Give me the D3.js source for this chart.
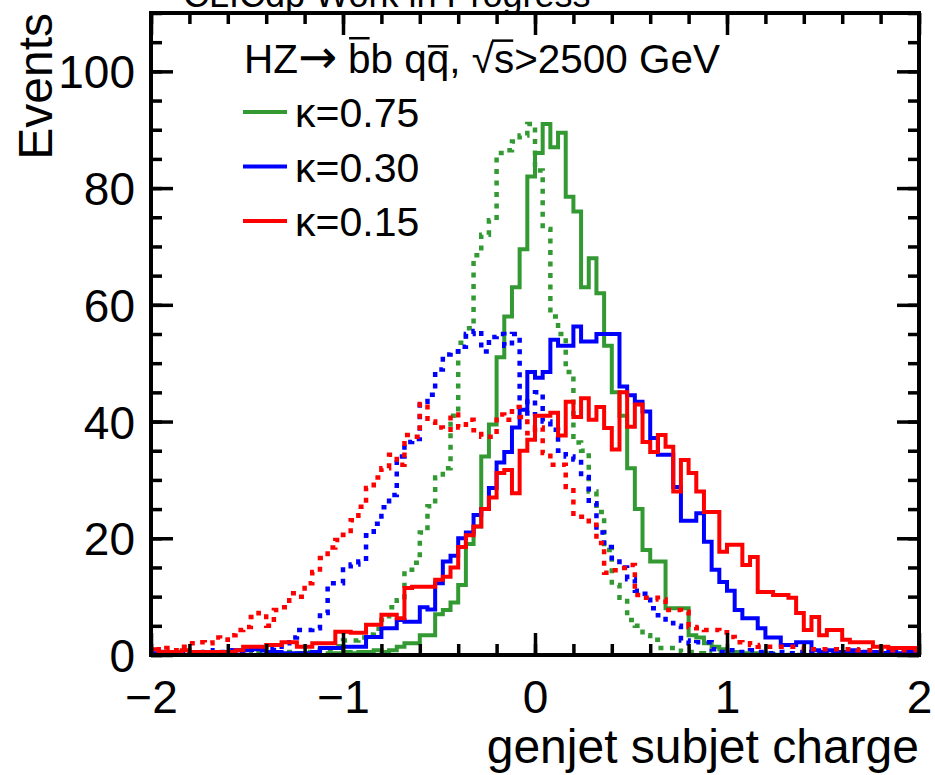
<!DOCTYPE html>
<html>
<head>
<meta charset="utf-8">
<script src="https://cdn.jsdelivr.net/npm/d3@7"></script>
<style>
  body { margin: 0; background: #fff; }
  svg { display: block; }
  text { font-family: "Liberation Sans", Arial, Helvetica, sans-serif; fill: #000; }
</style>
</head>
<body>
<svg id="chart" width="935" height="775"></svg>
<script>
// 100 bins from -2 to 2 (width 0.04)
const X_MIN = -2, X_MAX = 2, N_BINS = 100;

const greenSolid = [
  0,0,0,0,0,0,0,0,0,0, 0,0,0,0,0,0,0,0,0,0.3, 0,0.3,0,0.3,0.3,0.5,0.3,0.5,0.5,0.8,0.5,0.8,
  1.4,2,2,3.4,3.4,7,7.7,
  9,12,19,22,34,39.5,51,
  58,63,69.5,82,86,91,87,89.5,78.5,76,63,68,62,53,45,
  41,32,25,18,16,16,8,8,8,3.4,3,2,1.4,1,0.5,
  0.5,0.3,0.3,0,0.3,0,0,0,0,0, 0,0,0,0,0,0,0,0,0,0, 0,0,0,0
];
const greenDotted = [
  0,0,0,0,0,0,0,0,0,0.3, 0,0,0.3,0,0.3,0.3,0,0.3,0.5,0.3,0.5,
  0.8,1,1,
  1.5,2.5,2.5,3,3.5,4.5,6,8.2,9.4,14.6,15.8,21,25.5,30.4,32,
  41,53.5,56,68.5,72,74.5,86,86.5,88,89,91,83,73,58,55,48.5,
  36.4,35,28,24.5,18,12,9.8,6,5,3.4,2.6,1.2,1.2,1.2,0.5,0.5,
  0.3,0,0.3,0,0,0,0,0,0,0, 0,0,0,0,0,0,0,0,0,0, 0,0,0,0,0,0,0,0,0
];
const blueSolid = [
  0.3,0,0.3,0.5,0,0.3,0.3,0,0.5,0.3, 0.3,0.8,0.8,1,1,0.5,0.5,0.3,0.3,0.3, 0.3,0.5,1.2,
  1.2,1.2,1.4,1.4,1.4,3.1,3.1,4.6,4.6,6,5.7,5.7,8.2,7.8,12.3,16,
  17,20,21,24,25,
  28.6,33,34.8,39,42,48.5,47.5,48.5,54,53,53,56.3,53.7,53.7,55,55,55,
  46,44.5,43.4,41.7,37.2,34.3,34.3,28.8,23,23,24.3,19.4,14.6,12.5,11,7.7,6.3,6.3,4.6,3,3,1.7,1.7,2.2,2.2,
  0.8,0.5,0.8,0.5,0.5,0.8,0.5,0.5,0.5,0.3,0.5,0.3,0.5,0.5
];
const blueDotted = [
  0.3,0.5,0.3,0.5,0.5,0.3,0.5,0.8,0.5,0.5, 0.8,0.5,0.9,0.9,0.8,
  1,1.4,2,3,4.3,4.3,4.6,7.2,12.3,12.3,15.2,15.5,16,20.5,22.5,25.3,27.4,34,36.5,37,43.4,44.6,
  48.9,51.5,52,52.8,55,55.5,52,54.5,55,53,55,44,41,45,40,38.6,35,34,33.5,30.5,26,
  21,18.5,16,15,13,11,10.5,8,6.8,5.5,5,2.5,2,2.2,2.2,1,0.5,
  0.8,0.5,0.5,0.8,0.5,0.3,0.5,0.5,0.3,0.5, 0.3,0.5,0.3,0.3,0.5,0.3,0.3,0.5,0.3,0.3, 0.3,0.5,0.3,0.3,0.3
];
const redSolid = [
  1,0.5,0.5,0.5,0.8,0.5,0.5,0.5,0.5,0.5,0.5,0.8,1.4,1.4,1.4,
  1.7,1.7,2.2,2.2,1.4,1.4,2,2,2,4,4,3.8,3.8,5.2,5.2,6.9,6.9,6.3,11.5,11.7,11.7,11.7,12.9,13.4,
  15,18.5,20.5,22,25,
  27,31.2,31.7,27.7,35,36.9,41,41,41.5,37.6,43.4,40.8,44,40.3,42.5,38.9,35.2,45,39.1,42.9,36.5,34.8,37.7,35.7,28,33.4,31.2,28,24.5,24.5,
  17.7,18.9,18.9,15.4,16.8,10.8,10.8,10.3,10.3,9.8,7.2,4.3,6.5,3.4,4.3,4.3,2.6,2.2,2.2,2.2,1.4,1.4,1.2,1.2,1.2,1.2
];
const redDotted = [
  1,0.8,1.2,0.8,1.4,2,2.2,2,3,2.6,3.4,4.3,4.8,6.5,7.2,
  5,7.7,8.2,10.6,10,12.3,14.2,16.6,18.4,19.7,20.6,23.1,25.4,28.6,30.4,32,34.3,32.6,37.7,37.4,43,40,39,38.6,
  41.2,39,40.3,38.5,37.4,37.4,41.2,40.3,42.5,40.8,38,39,34.6,32.6,32.6,28.8,23.7,23.7,22.3,19.2,
  14.1,14.5,14.9,15.4,10.3,9.8,9.8,9.5,7.7,7.7,7.4,4.8,4.6,4.3,4.3,3.9,3.1,2.2,2,1.7,
  1.4,1.4,1.4,1.4,1.4,1.4,1,1,1,1,1,1,1,0.8,0.8,0.8,0.8,0.8,0.8,0.8,0.8
];

const legendLabels = ["κ=0.75", "κ=0.30", "κ=0.15"];
const colors = ["#339933", "#0000ff", "#ff0000"];
const xMajor = [-2, -1, 0, 1, 2];
const yMajor = [0, 20, 40, 60, 80, 100];

const series = [
  { color: colors[0], values: greenSolid, dotted: false },
  { color: colors[0], values: greenDotted, dotted: true },
  { color: colors[1], values: blueSolid, dotted: false },
  { color: colors[1], values: blueDotted, dotted: true },
  { color: colors[2], values: redSolid, dotted: false },
  { color: colors[2], values: redDotted, dotted: true }
];

const svg = d3.select("#chart");
const L = 151, R = 919, T = 13, B = 655;

const x = d3.scaleLinear().domain([X_MIN, X_MAX]).range([L, R]);
const y = d3.scaleLinear().domain([0, 110]).range([B, T]);
const binW = (X_MAX - X_MIN) / N_BINS;

const stepLine = d3.line().x(d => x(d[0])).y(d => y(d[1]));

function stepPoints(vals) {
  const pts = [[X_MIN, 0]];
  vals.forEach((v, i) => {
    pts.push([X_MIN + i * binW, v]);
    pts.push([X_MIN + (i + 1) * binW, v]);
  });
  pts.push([X_MAX, 0]);
  return pts;
}

svg.append("clipPath").attr("id", "plot-clip")
  .append("rect").attr("x", L).attr("y", T).attr("width", R - L).attr("height", B - T);

const histG = svg.append("g").attr("clip-path", "url(#plot-clip)");
series.forEach(s => {
  histG.append("path")
    .attr("d", stepLine(stepPoints(s.values)))
    .attr("fill", "none")
    .attr("stroke", s.color)
    .attr("stroke-width", s.dotted ? 4.5 : 4)
    .attr("stroke-linejoin", "miter")
    .attr("stroke-dasharray", s.dotted ? "5,6.5" : null);
});

// axes: ticks on all four sides, pointing inwards
const xMinor = d3.range(X_MIN, X_MAX + 1e-9, 0.2).map(v => +v.toFixed(2));
const yMinor = d3.range(0, 110 + 1e-9, 5);

function tickStyle(g) {
  g.select(".domain").remove();
  g.selectAll("line").attr("stroke", "#000").attr("stroke-width", 3.5);
}

svg.append("g").attr("transform", `translate(0,${B})`)
  .call(d3.axisBottom(x).tickValues(xMinor).tickSize(-11).tickFormat(""))
  .call(tickStyle);
svg.append("g").attr("transform", `translate(0,${T})`)
  .call(d3.axisTop(x).tickValues(xMinor).tickSize(-11).tickFormat(""))
  .call(tickStyle);
svg.append("g").attr("transform", `translate(0,${T})`)
  .call(d3.axisTop(x).tickValues(xMajor).tickSize(-22).tickFormat(""))
  .call(tickStyle);
svg.append("g").attr("transform", `translate(${L},0)`)
  .call(d3.axisLeft(y).tickValues(yMinor).tickSize(-11).tickFormat(""))
  .call(tickStyle);
svg.append("g").attr("transform", `translate(${R},0)`)
  .call(d3.axisRight(y).tickValues(yMinor).tickSize(-11).tickFormat(""))
  .call(tickStyle);
svg.append("g").attr("transform", `translate(${R},0)`)
  .call(d3.axisRight(y).tickValues(yMajor).tickSize(-22).tickFormat(""))
  .call(tickStyle);

const xAxis = svg.append("g").attr("transform", `translate(0,${B})`)
  .call(d3.axisBottom(x).tickValues(xMajor).tickSize(-22).tickPadding(25).tickFormat(d3.format("d")))
  .call(tickStyle);
xAxis.selectAll("text").attr("font-size", 46).attr("font-family", null).attr("fill", "#000");

const yAxis = svg.append("g").attr("transform", `translate(${L},0)`)
  .call(d3.axisLeft(y).tickValues(yMajor).tickSize(-22).tickPadding(16).tickFormat(d3.format("d")))
  .call(tickStyle);
yAxis.selectAll("text").attr("font-size", 46).attr("font-family", null).attr("fill", "#000").attr("dy", "0.36em");

// frame
svg.append("rect")
  .attr("x", L).attr("y", T).attr("width", R - L).attr("height", B - T)
  .attr("fill", "none").attr("stroke", "#000").attr("stroke-width", 4);

// titles
svg.append("text")
  .attr("x", R).attr("y", 763)
  .attr("text-anchor", "end").attr("font-size", 48)
  .text("genjet subjet charge");

svg.append("text")
  .attr("transform", "translate(52,13) rotate(-90)")
  .attr("text-anchor", "end").attr("font-size", 48)
  .text("Events");

svg.append("text")
  .attr("x", 183).attr("y", 7)
  .attr("font-size", 36)
  .text("CLICdp Work in Progress");

// legend header with overbars and square root
const header = svg.append("text")
  .attr("x", 244).attr("y", 73)
  .attr("font-size", 40);
header.append("tspan").text("HZ");
header.append("tspan").attr("font-family", "DejaVu Sans").attr("font-size", "1.15em").text("→");
header.append("tspan").text(" bb qq, √s>2500 GeV");
const natural = header.node().getComputedTextLength();
const headerSize = 40 * 476 / natural;
header.attr("font-size", headerSize);

const hn = header.node();
function barOver(idx, top, x0) {
  const e = hn.getExtentOfChar(idx);
  svg.append("line")
    .attr("x1", x0 != null ? x0 : e.x + 1).attr("x2", e.x + e.width - 1)
    .attr("y1", 73 - top * headerSize).attr("y2", 73 - top * headerSize)
    .attr("stroke", "#000").attr("stroke-width", 2.5);
}
barOver(4, 0.86);
barOver(8, 0.66);
const rootExt = hn.getExtentOfChar(11);
barOver(12, 0.80, rootExt.x + rootExt.width - 2);

// legend entries
const legend = svg.append("g");
legendLabels.forEach((lab, i) => {
  const ly = 112 + i * 54.5;
  legend.append("line")
    .attr("x1", 243).attr("x2", 287).attr("y1", ly).attr("y2", ly)
    .attr("stroke", colors[i]).attr("stroke-width", 4);
  legend.append("text")
    .attr("x", 295).attr("y", ly + 15)
    .attr("font-size", 41)
    .text(lab);
});
</script>
</body>
</html>
